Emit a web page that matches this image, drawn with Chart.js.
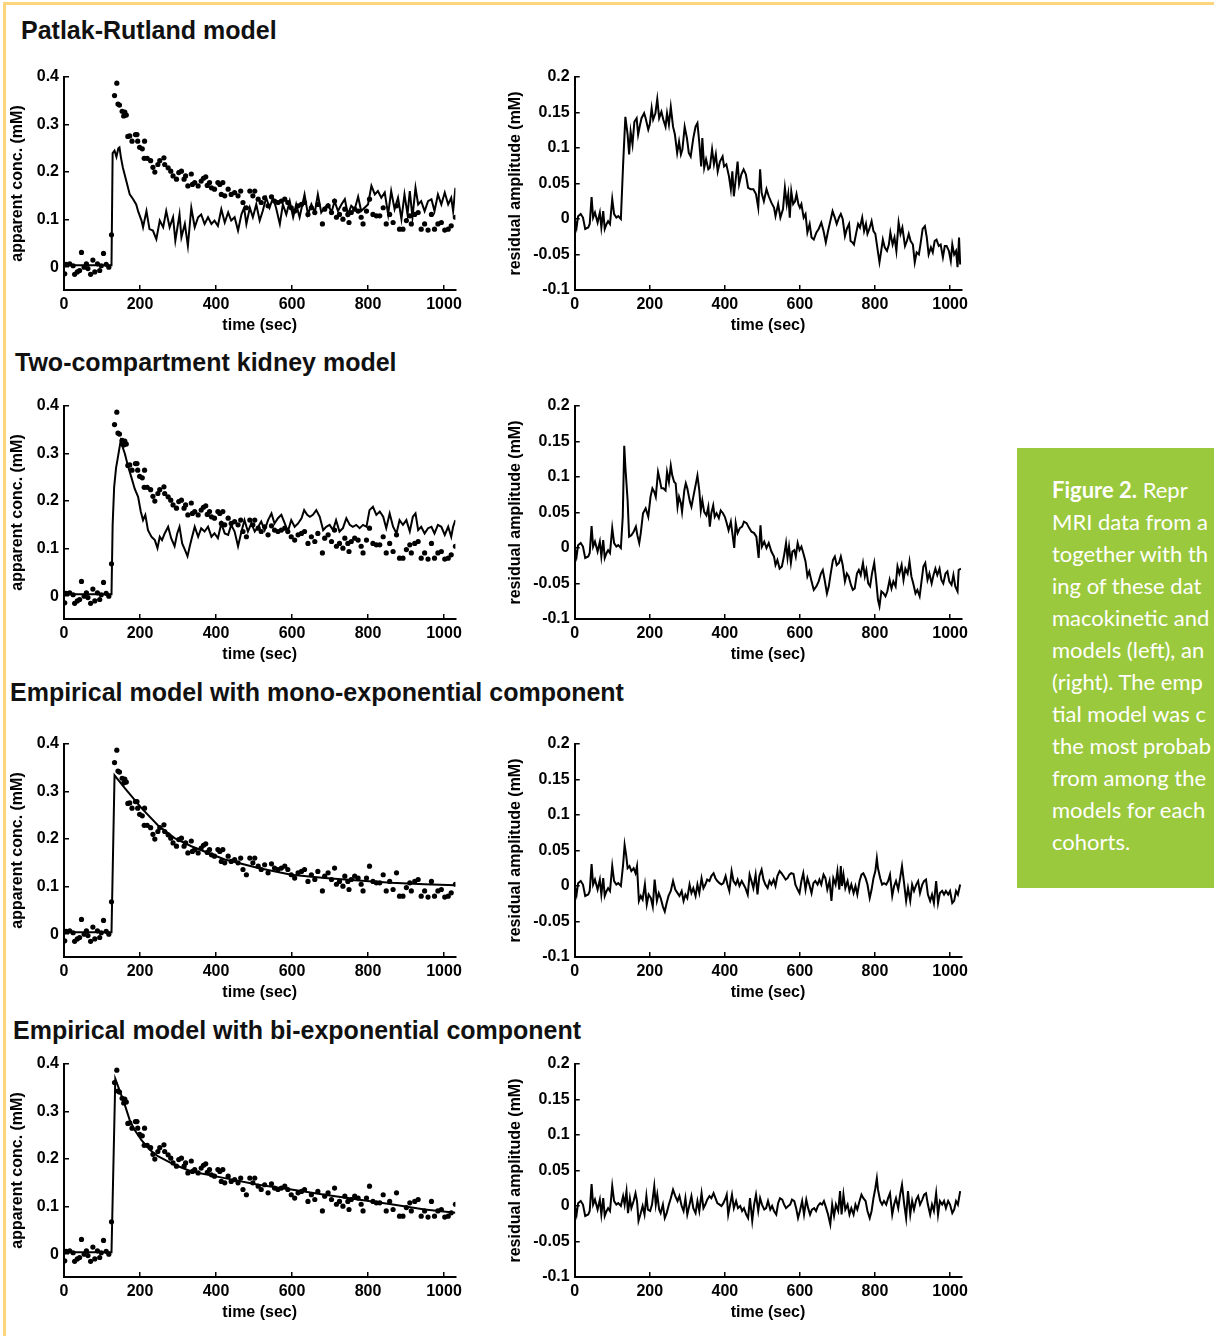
<!DOCTYPE html>
<html>
<head>
<meta charset="utf-8">
<script src="https://cdn.jsdelivr.net/npm/chart.js@4.4.1/dist/chart.umd.min.js"></script>
<style>
html,body{margin:0;padding:0;background:#fff;width:1214px;height:1336px;overflow:hidden;position:relative;font-family:Arial,"Liberation Sans",sans-serif;}
.frameTop{position:absolute;left:3px;top:2px;width:1211px;height:3px;background:#fdd57c;}
.frameLeft{position:absolute;left:3px;top:2px;width:3px;height:1334px;background:#fdd57c;}
.head{position:absolute;font-weight:bold;font-size:25px;line-height:28px;color:#111;white-space:nowrap;}
.plot{position:absolute;}
.caption{position:absolute;left:1017px;top:448px;width:260px;height:440px;background:#9bc93d;color:#fff;font-family:Lato,"Noto Sans",sans-serif;font-size:22px;line-height:32px;}
.caption .txt{position:absolute;left:35px;top:26px;white-space:nowrap;}
</style>
</head>
<body>
<div class="frameTop"></div>
<div class="frameLeft"></div>
<div class="head" style="left:21px;top:16px">Patlak-Rutland model</div>
<div class="head" style="left:15px;top:348px">Two-compartment kidney model</div>
<div class="head" style="left:10px;top:678px">Empirical model with mono-exponential component</div>
<div class="head" style="left:13px;top:1016px">Empirical model with bi-exponential component</div>
<div class="caption"><div class="txt">
<b>Figure 2.</b> Repr<br>MRI data from a<br>together with th<br>ing of these dat<br>macokinetic and<br>models (left), an<br>(right). The emp<br>tial model was c<br>the most probab<br>from among the<br>models for each<br>cohorts.
</div></div>
<div id="plots"></div>
<script>
// axis ticks
const xTicks = [0, 200, 400, 600, 800, 1000];
const concTicks = [0, 0.1, 0.2, 0.3, 0.4];
const resTicks = [-0.1, -0.05, 0, 0.05, 0.1, 0.15, 0.2];

// measured kidney signal (same dots in all left panels): [time, conc]
const measured = [
[2,-0.014],[6,0.006],[15,0.007],[24,0.003],[28,-0.015],[35,-0.010],[41,-0.007],[46,0.031],[53,0.000],[59,0.007],[63,-0.003],[70,-0.015],[76,0.015],[81,-0.010],[88,0.007],[94,-0.007],[98,0.003],[104,0.029],[111,0.006],[118,0.000],[125,0.068],
[133,0.361],[139,0.387],[142,0.343],[146,0.341],[153,0.328],[157,0.318],[160,0.326],[164,0.320],[168,0.275],[173,0.276],[179,0.265],[188,0.279],[192,0.279],[194,0.265],[199,0.252],[206,0.249],[211,0.229],[212,0.265],[219,0.229],[228,0.224],[234,0.210],[239,0.200],[247,0.216],[252,0.224],[263,0.230],[265,0.216],[274,0.209],[281,0.202],[287,0.192],[296,0.185],[302,0.199],[309,0.202],[316,0.185],[320,0.192],[326,0.171],[335,0.196],[338,0.174],[344,0.178],[353,0.171],[361,0.181],[367,0.187],[373,0.190],[377,0.172],[383,0.178],[388,0.167],[396,0.164],[405,0.178],[410,0.174],[414,0.153],[418,0.178],[423,0.150],[432,0.164],[440,0.153],[449,0.157],[458,0.150],[465,0.160],[471,0.136],[480,0.125],[489,0.160],[497,0.150],[502,0.160],[511,0.143],[519,0.136],[528,0.146],[537,0.129],[546,0.148],[554,0.139],[563,0.136],[572,0.139],[581,0.143],[589,0.136],[598,0.125],[607,0.118],[616,0.129],[625,0.132],[633,0.136],[642,0.111],[651,0.125],[660,0.115],[668,0.132],[680,0.091],[686,0.122],[695,0.129],[704,0.115],[712,0.139],[717,0.105],[725,0.111],[734,0.101],[739,0.122],[747,0.111],[750,0.094],[756,0.115],[765,0.122],[774,0.118],[782,0.105],[787,0.091],[796,0.118],[804,0.143],[813,0.111],[822,0.108],[831,0.108],[840,0.125],[848,0.091],[857,0.111],[866,0.094],[875,0.129],[883,0.080],[892,0.080],[901,0.098],[910,0.108],[914,0.091],[923,0.111],[932,0.115],[940,0.080],[949,0.091],[958,0.078],[967,0.111],[975,0.080],[984,0.091],[993,0.094],[1002,0.078],[1011,0.080],[1019,0.087],[1030,0.105]
];

// model fits
const prFit = [[0,0.004],[125,0.004],[128,0.240],[133,0.245],[138,0.232],[143,0.250],[146,0.252],[150,0.230],[155,0.209],[164,0.181],[173,0.153],[182,0.143],[190,0.132],[195,0.118],[204,0.098],[208,0.084],[217,0.118],[225,0.080],[234,0.077],[243,0.059],[252,0.098],[261,0.084],[269,0.118],[278,0.084],[287,0.105],[293,0.056],[304,0.111],[309,0.063],[318,0.091],[326,0.045],[335,0.125],[344,0.084],[353,0.105],[361,0.111],[370,0.091],[379,0.105],[388,0.091],[396,0.098],[405,0.087],[414,0.122],[423,0.094],[432,0.115],[440,0.098],[449,0.105],[458,0.077],[467,0.111],[474,0.125],[480,0.091],[489,0.125],[497,0.105],[506,0.132],[515,0.098],[523,0.118],[532,0.146],[541,0.125],[550,0.146],[558,0.125],[568,0.091],[576,0.132],[585,0.111],[594,0.139],[603,0.105],[611,0.132],[620,0.105],[633,0.153],[642,0.111],[651,0.132],[660,0.115],[668,0.153],[677,0.115],[686,0.125],[695,0.132],[704,0.115],[712,0.139],[721,0.118],[730,0.132],[739,0.143],[747,0.111],[756,0.129],[765,0.122],[774,0.148],[782,0.118],[791,0.125],[800,0.132],[809,0.171],[818,0.153],[826,0.160],[835,0.146],[844,0.157],[853,0.111],[861,0.160],[870,0.122],[879,0.146],[888,0.101],[896,0.153],[904,0.111],[910,0.160],[917,0.105],[925,0.167],[932,0.132],[940,0.139],[949,0.118],[958,0.139],[967,0.143],[975,0.118],[984,0.153],[993,0.132],[1002,0.157],[1011,0.132],[1019,0.146],[1024,0.118],[1030,0.167]];
const tcFit = [[0,0.004],[125,0.004],[128,0.150],[132,0.230],[137,0.270],[142,0.293],[149,0.326],[160,0.300],[168,0.275],[177,0.251],[186,0.226],[195,0.209],[202,0.178],[208,0.160],[214,0.171],[221,0.139],[230,0.125],[239,0.118],[246,0.101],[252,0.125],[258,0.118],[265,0.132],[274,0.146],[282,0.122],[291,0.105],[298,0.132],[304,0.146],[311,0.111],[318,0.098],[325,0.084],[331,0.105],[335,0.118],[344,0.146],[353,0.125],[361,0.143],[370,0.136],[379,0.146],[388,0.125],[396,0.132],[405,0.122],[414,0.153],[423,0.132],[432,0.129],[440,0.150],[449,0.136],[458,0.105],[467,0.136],[475,0.160],[484,0.136],[493,0.153],[502,0.136],[511,0.146],[519,0.157],[528,0.139],[537,0.160],[546,0.174],[554,0.153],[563,0.164],[572,0.171],[581,0.153],[589,0.136],[598,0.160],[607,0.146],[616,0.153],[625,0.164],[632,0.181],[640,0.171],[647,0.167],[655,0.171],[664,0.181],[673,0.167],[682,0.139],[690,0.146],[699,0.150],[708,0.139],[716,0.160],[725,0.136],[734,0.143],[743,0.164],[752,0.150],[760,0.146],[769,0.150],[778,0.143],[787,0.150],[796,0.146],[804,0.181],[813,0.188],[822,0.171],[831,0.178],[840,0.167],[848,0.143],[857,0.174],[866,0.146],[875,0.132],[883,0.160],[892,0.150],[901,0.160],[910,0.136],[918,0.167],[925,0.174],[932,0.139],[940,0.146],[949,0.132],[958,0.143],[967,0.146],[975,0.132],[984,0.150],[993,0.146],[1002,0.129],[1011,0.146],[1019,0.125],[1024,0.146],[1030,0.160]];
const monoFit = [[0,0.004],[125,0.004],[133,0.334],[160,0.307],[204,0.265],[247,0.229],[291,0.202],[335,0.185],[423,0.157],[511,0.139],[598,0.125],[686,0.118],[774,0.113],[861,0.108],[949,0.105],[1030,0.103]];
const biFit = [[0,0.004],[125,0.004],[135,0.369],[146,0.345],[160,0.314],[173,0.282],[186,0.261],[204,0.240],[225,0.220],[247,0.206],[291,0.188],[335,0.174],[423,0.160],[511,0.146],[598,0.136],[686,0.125],[774,0.115],[861,0.105],[949,0.094],[1030,0.087]];

// residuals: pre-contrast part is the same in every panel
const resBase = [[0,0.000],[5,-0.012],[9,0.004],[16,0.007],[22,0.002],[28,-0.014],[36,-0.012],[40,-0.007],[45,0.031],[49,0.002],[54,0.009],[61,-0.005],[67,0.009],[71,-0.012],[76,0.011],[80,-0.014],[85,-0.007],[89,-0.003],[94,-0.007],[100,0.028],[105,0.007],[111,0.002],[116,0.004],[123,0.000]];
const prRes = [[129,0.077],[135,0.144],[141,0.119],[145,0.091],[149,0.123],[154,0.105],[159,0.137],[165,0.142],[169,0.119],[173,0.130],[178,0.142],[185,0.149],[189,0.142],[196,0.126],[200,0.133],[205,0.156],[209,0.140],[215,0.149],[220,0.169],[225,0.142],[231,0.151],[236,0.140],[242,0.130],[246,0.149],[251,0.133],[256,0.158],[262,0.130],[267,0.119],[273,0.093],[278,0.109],[283,0.091],[287,0.098],[293,0.130],[299,0.114],[304,0.093],[309,0.088],[316,0.114],[322,0.130],[327,0.135],[332,0.107],[337,0.074],[340,0.114],[345,0.072],[350,0.084],[356,0.070],[360,0.072],[366,0.098],[371,0.077],[376,0.091],[381,0.067],[387,0.081],[394,0.088],[398,0.074],[404,0.077],[411,0.060],[416,0.042],[420,0.067],[424,0.032],[429,0.056],[434,0.081],[438,0.049],[444,0.063],[450,0.070],[456,0.063],[462,0.044],[469,0.042],[476,0.042],[483,0.035],[489,0.016],[494,0.070],[498,0.037],[504,0.025],[511,0.042],[517,0.032],[524,0.023],[531,0.016],[535,0.004],[542,0.021],[548,0.002],[555,0.014],[560,0.044],[565,0.021],[569,0.035],[573,0.002],[577,0.039],[582,0.021],[587,0.025],[591,0.035],[596,0.021],[600,0.016],[604,0.021],[610,0.002],[615,0.007],[620,-0.019],[626,-0.007],[631,-0.026],[637,-0.029],[644,-0.019],[650,-0.014],[657,-0.005],[663,-0.017],[669,-0.033],[675,-0.017],[681,-0.003],[687,0.011],[693,0.002],[698,-0.007],[704,0.002],[709,0.007],[714,0.000],[720,-0.024],[725,-0.014],[731,-0.007],[735,-0.031],[740,-0.033],[744,-0.036],[751,-0.017],[755,-0.007],[760,-0.012],[766,0.002],[771,-0.017],[776,-0.007],[780,-0.021],[785,-0.014],[791,-0.003],[796,-0.017],[801,-0.021],[807,-0.043],[812,-0.061],[816,-0.047],[821,-0.029],[826,-0.040],[832,-0.045],[837,-0.036],[841,-0.019],[847,-0.036],[852,-0.026],[857,-0.045],[863,-0.005],[868,-0.021],[873,-0.012],[880,-0.038],[885,-0.031],[890,-0.021],[895,-0.031],[901,-0.036],[906,-0.061],[911,-0.047],[917,-0.050],[922,-0.033],[927,-0.014],[933,-0.010],[938,-0.026],[943,-0.050],[949,-0.040],[954,-0.047],[959,-0.031],[964,-0.029],[970,-0.038],[975,-0.036],[981,-0.054],[986,-0.038],[991,-0.038],[997,-0.045],[1002,-0.059],[1006,-0.036],[1011,-0.050],[1016,-0.045],[1020,-0.068],[1024,-0.026],[1027,-0.064]];
const tcRes = [[128,0.044],[132,0.144],[135,0.114],[141,0.067],[145,0.016],[151,0.018],[157,0.023],[163,0.030],[167,0.018],[172,0.007],[176,0.021],[182,0.049],[189,0.056],[196,0.044],[202,0.072],[207,0.084],[212,0.079],[216,0.072],[222,0.107],[227,0.095],[231,0.084],[236,0.084],[242,0.081],[246,0.107],[251,0.093],[256,0.116],[260,0.102],[265,0.093],[269,0.091],[274,0.058],[278,0.072],[283,0.063],[286,0.051],[292,0.081],[296,0.091],[300,0.084],[307,0.065],[311,0.058],[316,0.072],[323,0.091],[327,0.102],[332,0.081],[336,0.053],[340,0.067],[345,0.051],[351,0.046],[356,0.058],[360,0.030],[364,0.049],[369,0.060],[373,0.044],[378,0.049],[384,0.042],[389,0.053],[395,0.049],[400,0.044],[404,0.037],[410,0.025],[416,0.037],[420,0.021],[425,0.000],[429,0.035],[434,0.021],[440,0.028],[446,0.030],[451,0.037],[458,0.035],[465,0.028],[471,0.023],[478,0.021],[484,0.016],[490,-0.014],[495,0.032],[499,0.002],[505,0.009],[511,0.000],[517,0.007],[524,-0.005],[531,-0.012],[535,-0.024],[540,-0.017],[546,-0.029],[552,-0.026],[558,-0.010],[563,0.007],[567,-0.014],[571,0.002],[576,-0.021],[580,-0.005],[585,-0.003],[589,-0.012],[594,0.007],[599,-0.003],[604,0.002],[609,-0.007],[615,-0.019],[620,-0.040],[625,-0.033],[631,-0.047],[637,-0.059],[644,-0.054],[650,-0.047],[656,-0.036],[661,-0.031],[666,-0.045],[672,-0.064],[677,-0.054],[682,-0.036],[688,-0.017],[693,-0.012],[698,-0.024],[704,-0.021],[709,-0.012],[714,-0.024],[720,-0.047],[725,-0.036],[730,-0.040],[736,-0.052],[741,-0.059],[746,-0.057],[752,-0.036],[757,-0.031],[762,-0.038],[768,-0.021],[773,-0.040],[777,-0.031],[782,-0.050],[787,-0.054],[792,-0.036],[798,-0.021],[803,-0.045],[808,-0.073],[812,-0.082],[817,-0.061],[823,-0.064],[828,-0.068],[833,-0.061],[839,-0.045],[844,-0.057],[849,-0.047],[855,-0.054],[860,-0.026],[865,-0.036],[871,-0.024],[876,-0.045],[881,-0.029],[887,-0.036],[892,-0.019],[897,-0.040],[902,-0.050],[908,-0.064],[913,-0.059],[919,-0.068],[924,-0.047],[929,-0.026],[934,-0.021],[940,-0.045],[945,-0.036],[951,-0.050],[956,-0.038],[961,-0.029],[966,-0.038],[972,-0.029],[977,-0.045],[982,-0.050],[988,-0.036],[993,-0.033],[998,-0.047],[1004,-0.052],[1009,-0.038],[1014,-0.054],[1020,-0.061],[1023,-0.031],[1029,-0.029]];
const monoRes = [[129,0.030],[133,0.058],[137,0.044],[141,0.025],[146,0.028],[151,0.021],[157,0.025],[162,0.018],[166,0.028],[171,-0.021],[176,-0.014],[181,-0.019],[187,0.002],[192,-0.026],[197,-0.012],[203,-0.017],[208,-0.029],[213,0.009],[219,-0.021],[224,-0.010],[229,-0.017],[235,-0.029],[240,-0.036],[245,-0.024],[250,-0.014],[256,-0.007],[262,0.007],[268,-0.005],[274,-0.010],[279,-0.014],[285,-0.007],[290,-0.021],[295,-0.012],[300,-0.017],[306,0.002],[311,-0.010],[316,-0.003],[322,-0.014],[327,0.002],[332,-0.010],[338,0.011],[343,-0.003],[348,0.002],[353,0.009],[359,0.007],[364,0.014],[370,0.018],[375,0.011],[380,0.007],[386,0.004],[391,0.002],[396,0.004],[402,0.014],[407,0.002],[412,-0.007],[418,0.021],[423,0.007],[429,0.002],[434,0.009],[439,0.000],[445,0.007],[450,0.002],[455,-0.003],[461,-0.012],[466,0.016],[471,0.007],[476,-0.003],[482,0.016],[487,-0.012],[492,0.014],[498,0.023],[503,0.009],[508,0.002],[514,-0.003],[519,0.007],[524,0.002],[530,0.009],[535,0.000],[540,0.014],[546,0.021],[551,0.018],[556,0.014],[562,0.009],[567,0.011],[572,0.016],[577,0.018],[583,0.017],[588,0.002],[594,-0.005],[599,-0.010],[604,0.007],[609,0.018],[615,-0.005],[620,0.011],[625,0.002],[631,-0.010],[636,0.004],[641,0.007],[647,0.002],[652,0.009],[657,0.002],[663,0.016],[668,0.011],[673,-0.005],[679,0.007],[684,-0.021],[689,0.011],[695,0.002],[700,0.021],[705,-0.005],[709,0.028],[712,0.000],[716,0.016],[721,-0.003],[727,0.007],[732,-0.007],[737,0.002],[743,-0.010],[748,0.000],[753,-0.012],[759,0.007],[764,0.016],[769,0.018],[775,0.011],[780,0.002],[786,-0.017],[791,-0.005],[796,0.011],[801,0.021],[805,0.039],[808,0.025],[814,0.011],[819,0.002],[824,0.004],[830,0.002],[835,0.007],[840,0.016],[846,-0.014],[851,0.000],[856,0.007],[862,-0.005],[867,0.011],[872,0.028],[878,0.002],[883,-0.021],[888,-0.003],[894,-0.021],[899,0.002],[904,-0.007],[910,0.002],[915,0.007],[920,-0.010],[926,0.002],[931,0.007],[936,0.009],[941,-0.012],[947,-0.021],[952,-0.012],[957,-0.024],[963,0.007],[968,-0.024],[973,-0.010],[979,-0.007],[984,-0.012],[989,-0.007],[995,-0.012],[1000,-0.007],[1006,-0.024],[1011,-0.021],[1016,-0.007],[1021,-0.012],[1027,0.002]];
const biRes = [[129,0.014],[133,0.002],[138,0.021],[142,-0.010],[147,0.011],[151,-0.003],[157,0.007],[162,0.018],[166,0.007],[170,-0.021],[175,-0.012],[181,0.000],[186,-0.012],[191,0.014],[195,-0.005],[201,-0.007],[206,0.002],[212,0.028],[216,0.002],[220,0.016],[225,-0.005],[229,-0.010],[235,0.002],[240,-0.017],[245,-0.010],[251,0.002],[256,0.011],[262,0.023],[268,0.014],[274,0.007],[279,0.014],[285,0.000],[290,-0.007],[295,0.011],[300,-0.012],[306,0.002],[311,0.014],[316,-0.003],[322,-0.010],[327,0.007],[332,-0.007],[338,0.018],[343,-0.003],[348,0.002],[353,0.009],[359,0.014],[364,0.011],[370,0.018],[375,0.011],[380,0.004],[386,0.002],[391,0.000],[396,0.004],[402,0.011],[405,0.016],[409,-0.012],[414,0.002],[419,0.016],[424,-0.003],[430,0.007],[435,-0.003],[441,0.000],[446,-0.007],[451,-0.003],[457,-0.012],[462,-0.017],[467,0.011],[473,-0.021],[478,0.002],[483,0.016],[489,-0.007],[494,0.011],[499,0.002],[505,-0.005],[510,-0.003],[515,0.007],[521,-0.005],[526,0.000],[531,-0.007],[537,-0.012],[542,0.004],[547,0.011],[553,0.009],[558,0.002],[563,-0.003],[569,0.000],[574,0.002],[579,0.009],[585,0.007],[590,-0.003],[595,-0.017],[600,-0.007],[606,0.007],[611,-0.012],[617,0.009],[622,-0.003],[627,-0.012],[632,-0.005],[638,-0.003],[643,-0.007],[648,0.000],[654,0.004],[659,0.002],[664,0.007],[670,-0.003],[675,-0.012],[681,-0.026],[686,0.002],[691,-0.014],[696,0.002],[702,-0.007],[707,0.021],[711,-0.012],[716,0.016],[721,-0.005],[727,0.002],[732,-0.012],[737,-0.003],[743,-0.012],[748,0.002],[753,-0.005],[759,0.007],[764,0.016],[769,0.011],[775,0.007],[780,-0.007],[786,-0.017],[791,-0.007],[796,0.011],[801,0.025],[805,0.039],[808,0.023],[814,0.007],[819,0.002],[824,0.007],[830,0.002],[835,0.011],[840,0.018],[846,-0.012],[851,0.002],[856,0.011],[862,-0.003],[867,0.016],[872,0.030],[878,0.002],[883,-0.017],[888,0.021],[894,-0.012],[899,0.007],[904,-0.005],[910,0.009],[915,0.014],[920,0.002],[926,0.009],[931,0.016],[936,0.018],[941,0.002],[947,-0.012],[952,0.002],[957,-0.007],[963,0.018],[968,-0.012],[973,0.007],[979,0.002],[984,0.007],[989,-0.003],[995,0.007],[1000,0.002],[1006,-0.010],[1011,-0.005],[1016,0.007],[1021,0.002],[1027,0.021]];

const fits = [prFit, tcFit, monoFit, biFit];
const residuals = [prRes, tcRes, monoRes, biRes];
const rowTops = [77, 406, 744, 1064];

function pts(a){
    return a.map(p => ({x: p[0], y: p[1]}));
}
const tickFont = {family: 'Arial, "Liberation Sans", sans-serif', size: 16, weight: 'bold'};
function fmt(v){
    return String(Number(v.toFixed(2)));
}
function noPad(s){
    s.paddingTop = 0; s.paddingBottom = 0; s.paddingLeft = 0; s.paddingRight = 0;
}

function xAxis(){
    return {
        type: 'linear', min: 0, max: 1030,
        afterBuildTicks: s => { s.ticks = xTicks.map(v => ({value: v})); },
        afterFit: s => { s.height = 45; noPad(s); },
        border: {display: true, color: '#000', width: 2},
        grid: {display: true, drawOnChartArea: false, drawTicks: true, tickLength: -5, color: '#000', lineWidth: 1.5},
        ticks: {color: '#000', padding: 10, font: tickFont, maxRotation: 0, autoSkip: false, callback: fmt},
        title: {display: true, text: 'time (sec)', color: '#000', font: tickFont, padding: {top: 0, bottom: 0}}
    };
}
function yAxis(min, max, ticks, width, title, titlePad){
    return {
        type: 'linear', min: min, max: max,
        afterBuildTicks: s => { s.ticks = ticks.map(v => ({value: v})); },
        afterFit: s => { s.width = width; noPad(s); },
        border: {display: true, color: '#000', width: 2},
        grid: {display: true, drawOnChartArea: false, drawTicks: true, tickLength: -5, color: '#000', lineWidth: 1.5},
        ticks: {color: '#000', padding: 10, font: tickFont, autoSkip: false, callback: fmt},
        title: {display: true, text: title, color: '#000', font: tickFont, padding: {top: titlePad, bottom: 0}}
    };
}
function addCanvas(left, top, w, h){
    const c = document.createElement('canvas');
    c.width = w; c.height = h;
    c.className = 'plot';
    c.style.left = left + 'px';
    c.style.top = top + 'px';
    document.getElementById('plots').appendChild(c);
    return c;
}
function lineSet(a){
    return {data: pts(a), showLine: true, borderColor: '#000', borderWidth: 2, pointRadius: 0, fill: false, tension: 0};
}
function baseOpts(padRight, x, y){
    return {
        responsive: false, animation: false, devicePixelRatio: 1,
        layout: {padding: {top: 10, right: padRight, left: 0, bottom: 0}},
        plugins: {legend: {display: false}, tooltip: {enabled: false}},
        scales: {x: x, y: y}
    };
}

for (let i = 0; i < 4; i++){
    const top = rowTops[i] - 10;
    // left: data + fitted model
    new Chart(addCanvas(0, top, 470, 268), {
        type: 'scatter',
        data: {datasets: [
            lineSet(fits[i]),
            {data: pts(measured), pointRadius: 2.6, pointBackgroundColor: '#000', pointBorderWidth: 0, showLine: false}
        ]},
        options: baseOpts(14.6, xAxis(), yAxis(-0.048, 0.4, concTicks, 64, 'apparent conc. (mM)', 8.4))
    });
    // right: residuals
    new Chart(addCanvas(500, top, 480, 268), {
        type: 'scatter',
        data: {datasets: [lineSet(resBase.concat(residuals[i]))]},
        options: baseOpts(18.7, xAxis(), yAxis(-0.1, 0.2, resTicks, 74.7, 'residual amplitude (mM)', 6.4))
    });
}
</script>
</body>
</html>
